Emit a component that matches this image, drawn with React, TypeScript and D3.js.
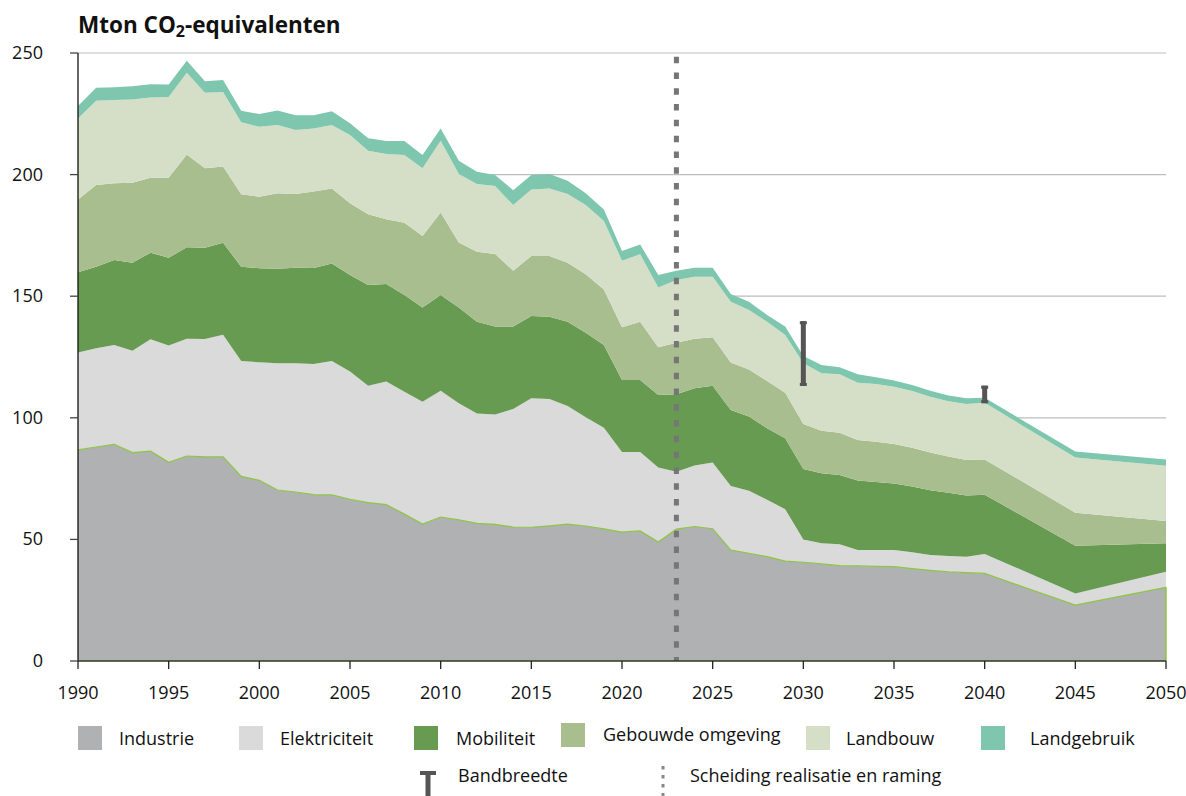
import React, { useEffect } from "react";
import * as d3 from "d3";

// jaren: realisatie t/m 2023, raming daarna
const years = [
  1990, 1991, 1992, 1993, 1994, 1995, 1996, 1997, 1998, 1999,
  2000, 2001, 2002, 2003, 2004, 2005, 2006, 2007, 2008, 2009,
  2010, 2011, 2012, 2013, 2014, 2015, 2016, 2017, 2018, 2019,
  2020, 2021, 2022, 2023, 2024, 2025, 2026, 2027, 2028, 2029,
  2030, 2031, 2032, 2033, 2034, 2035, 2036, 2037, 2038, 2039,
  2040, 2045, 2050,
];

const industrie = [
  86.8, 88.0, 89.1, 85.7, 86.3, 81.7, 84.3, 83.9, 83.9, 75.9,
  74.3, 70.3, 69.5, 68.4, 68.3, 66.5, 65.1, 64.3, 60.4, 56.3,
  59.2, 58.0, 56.6, 56.2, 55.1, 55.0, 55.6, 56.3, 55.5, 54.3,
  53.0, 53.5, 48.9, 54.2, 55.3, 54.4, 45.6, 44.3, 42.9, 41.1,
  40.6, 39.9, 39.2, 39.1, 38.9, 38.8, 38.0, 37.3, 36.7, 36.3,
  36.0, 23.0, 30.3,
];
const elektriciteit = [
  40.0, 40.6, 40.8, 41.9, 46.0, 48.0, 48.2, 48.5, 50.3, 47.5,
  48.5, 52.1, 52.9, 53.7, 55.1, 52.5, 48.1, 50.6, 50.3, 50.3,
  51.9, 48.0, 45.2, 45.2, 48.5, 53.0, 52.1, 48.6, 44.7, 41.6,
  32.9, 32.4, 30.7, 23.6, 25.1, 27.2, 26.4, 25.7, 23.4, 21.3,
  9.4, 8.5, 8.8, 6.5, 6.7, 6.8, 6.7, 6.3, 6.5, 6.6,
  8.0, 4.8, 6.4,
];
const mobiliteit = [
  33.0, 33.5, 35.0, 36.2, 35.6, 36.1, 37.6, 37.5, 37.8, 38.7,
  38.7, 38.9, 39.3, 39.5, 40.0, 39.7, 41.4, 40.1, 39.8, 38.8,
  39.4, 39.4, 37.7, 36.1, 33.9, 33.9, 33.9, 34.6, 34.8, 34.0,
  29.6, 29.6, 29.8, 31.9, 31.8, 31.6, 31.2, 30.5, 29.4, 29.2,
  28.9, 28.8, 28.5, 28.6, 28.0, 27.4, 27.1, 26.6, 26.0, 25.1,
  24.4, 19.6, 11.7,
];
const gebouwdeOmgeving = [
  30.0, 33.6, 31.5, 32.9, 30.8, 32.9, 38.2, 32.7, 31.3, 29.8,
  29.4, 31.0, 30.3, 31.4, 30.9, 29.5, 29.1, 26.6, 29.7, 29.4,
  33.9, 26.7, 28.8, 29.9, 23.0, 24.6, 24.9, 24.3, 24.0, 22.9,
  21.7, 24.0, 19.6, 21.2, 20.3, 19.9, 19.5, 19.4, 19.4, 18.7,
  18.5, 17.5, 17.4, 16.7, 16.6, 16.2, 15.9, 15.5, 14.9, 14.6,
  14.5, 13.6, 9.2,
];
const landbouw = [
  33.3, 34.7, 34.3, 34.2, 33.0, 33.2, 33.6, 31.1, 30.7, 29.6,
  28.8, 28.1, 26.3, 26.0, 26.1, 28.1, 26.1, 26.9, 27.9, 27.8,
  29.5, 28.1, 27.8, 27.9, 27.0, 27.4, 27.8, 28.2, 28.5, 28.1,
  27.4, 27.7, 24.6, 25.8, 25.5, 24.9, 25.0, 24.4, 24.4, 23.7,
  25.0, 23.6, 24.0, 23.5, 23.7, 23.6, 23.3, 23.0, 22.7, 23.1,
  23.3, 22.7, 22.7,
];
const landgebruik = [
  5.1, 5.3, 5.2, 5.4, 5.4, 5.1, 4.9, 4.7, 4.9, 4.8,
  5.2, 6.0, 6.1, 5.4, 5.6, 4.8, 5.1, 5.3, 5.7, 5.5,
  5.1, 5.5, 5.1, 4.5, 6.1, 5.9, 5.9, 5.5, 4.8, 4.8,
  4.0, 4.1, 5.1, 3.8, 3.7, 3.7, 3.2, 3.4, 2.8, 3.5,
  3.0, 3.4, 2.9, 3.5, 2.8, 2.5, 2.5, 2.4, 2.4, 2.3,
  2.0, 2.4, 2.6,
];

const seriesNames = ["Industrie", "Elektriciteit", "Mobiliteit", "Gebouwde omgeving", "Landbouw", "Landgebruik"];
const seriesColors = ["#b0b1b3", "#dadada", "#689b52", "#a8be8e", "#d5dfc8", "#7ec7ae"];

const yTicks = [0, 50, 100, 150, 200, 250];
const xTicks = [1990, 1995, 2000, 2005, 2010, 2015, 2020, 2025, 2030, 2035, 2040, 2045, 2050];

const splitYear = 2023;
const bandYears = [2030, 2040];
const bandLow = [113.1, 106.0];
const bandHigh = [139.7, 113.2];

const W = 1186;
const H = 796;
const M = { left: 78, right: 20, top: 53, bottom: 135 };
const FONT = "'Open Sans', 'Noto Sans', sans-serif";

export default function App() {
  useEffect(() => {
    document.body.style.margin = "0";
  }, []);

  const x = d3.scaleLinear().domain([1990, 2050]).range([M.left, W - M.right]);
  const y = d3.scaleLinear().domain([0, 250]).range([H - M.bottom, M.top]);

  const rows = years.map((yr, i) => ({
    year: yr,
    Industrie: industrie[i],
    Elektriciteit: elektriciteit[i],
    Mobiliteit: mobiliteit[i],
    "Gebouwde omgeving": gebouwdeOmgeving[i],
    Landbouw: landbouw[i],
    Landgebruik: landgebruik[i],
  }));
  const stacked = d3.stack<any>().keys(seriesNames)(rows);

  const area = d3
    .area<any>()
    .x((d) => x(d.data.year))
    .y0((d) => y(d[0]))
    .y1((d) => y(d[1]));

  const industrieLine = d3
    .line<any>()
    .x((d) => x(d.data.year))
    .y((d) => y(d[1]));

  const x0 = x(1990);
  const x1 = x(2050);
  const yBase = y(0);

  // legenda-indeling
  const legendSquares = [78, 239, 414, 561, 806, 981];
  const legendTexts = [119, 280, 456, 603, 846, 1030];

  return (
    <svg width={W} height={H} style={{ position: "absolute", left: 0, top: 0, fontFamily: FONT }}>
      <text x={78} y={33} fontSize={22.5} fontWeight={700} fill="#111">
        Mton CO<tspan fontSize={16} dy={4}>2</tspan>
        <tspan dy={-4}>-equivalenten</tspan>
      </text>

      {yTicks.filter((t) => t > 0).map((t) => (
        <line key={"g" + t} x1={x0} x2={x1} y1={y(t)} y2={y(t)} stroke="#bdbdbd" strokeWidth={1.2} />
      ))}

      {stacked.map((s, i) => (
        <path key={s.key} d={area(s) || ""} fill={seriesColors[i]} />
      ))}
      <path d={industrieLine(stacked[0]) || ""} fill="none" stroke="#8dc63f" strokeWidth={1.2} />
      <line x1={x1} x2={x1} y1={yBase} y2={y(industrie[industrie.length - 1])} stroke="#8dc63f" strokeWidth={1.5} />

      {/* scheiding realisatie en raming */}
      <line
        x1={x(splitYear)}
        x2={x(splitYear)}
        y1={y(248.5)}
        y2={yBase}
        stroke="#767676"
        strokeWidth={5}
        strokeDasharray="6.5 9.3"
      />

      {/* bandbreedte */}
      {bandYears.map((yr, i) => (
        <g key={"b" + yr} fill="#555">
          <rect x={x(yr) - 2.5} y={y(bandHigh[i])} width={5} height={y(bandLow[i]) - y(bandHigh[i])} />
          <rect x={x(yr) - 3.5} y={y(bandHigh[i])} width={7} height={3} />
          <rect x={x(yr) - 3.5} y={y(bandLow[i]) - 3} width={7} height={3} />
        </g>
      ))}

      {/* assen */}
      <line x1={x0} x2={x0} y1={M.top} y2={yBase} stroke="#111" strokeWidth={1.3} />
      <line x1={x0} x2={x1} y1={yBase} y2={yBase} stroke="#2f3a1e" strokeWidth={1.3} />
      {yTicks.map((t) => (
        <g key={"yt" + t}>
          <line x1={x0 - 8} x2={x0} y1={y(t)} y2={y(t)} stroke="#444" strokeWidth={1.3} />
          <text x={43} y={y(t) + 6} textAnchor="end" fontSize={18} fill="#111">
            {t}
          </text>
        </g>
      ))}
      {xTicks.map((t) => (
        <g key={"xt" + t}>
          <line x1={x(t)} x2={x(t)} y1={yBase} y2={yBase + 8} stroke="#222" strokeWidth={1.3} />
          <text x={x(t)} y={699} textAnchor="middle" fontSize={18} fill="#111">
            {t}
          </text>
        </g>
      ))}

      {/* legenda */}
      {seriesNames.map((n, i) => (
        <g key={"l" + n}>
          <rect x={legendSquares[i]} y={i === 3 ? 723 : 726} width={24} height={24} fill={seriesColors[i]} />
          <text x={legendTexts[i]} y={i === 3 ? 741 : 745} fontSize={18} fill="#111">
            {n}
          </text>
        </g>
      ))}
      <g fill="#555">
        <rect x={420} y={771} width={16} height={4} />
        <rect x={425.5} y={771} width={5} height={25} />
      </g>
      <text x={458} y={782} fontSize={18} fill="#111">
        Bandbreedte
      </text>
      <line x1={663} x2={663} y1={766} y2={796} stroke="#888" strokeWidth={3} strokeDasharray="3.5 5.5" />
      <text x={690} y={782} fontSize={18} fill="#111">
        Scheiding realisatie en raming
      </text>
    </svg>
  );
}
